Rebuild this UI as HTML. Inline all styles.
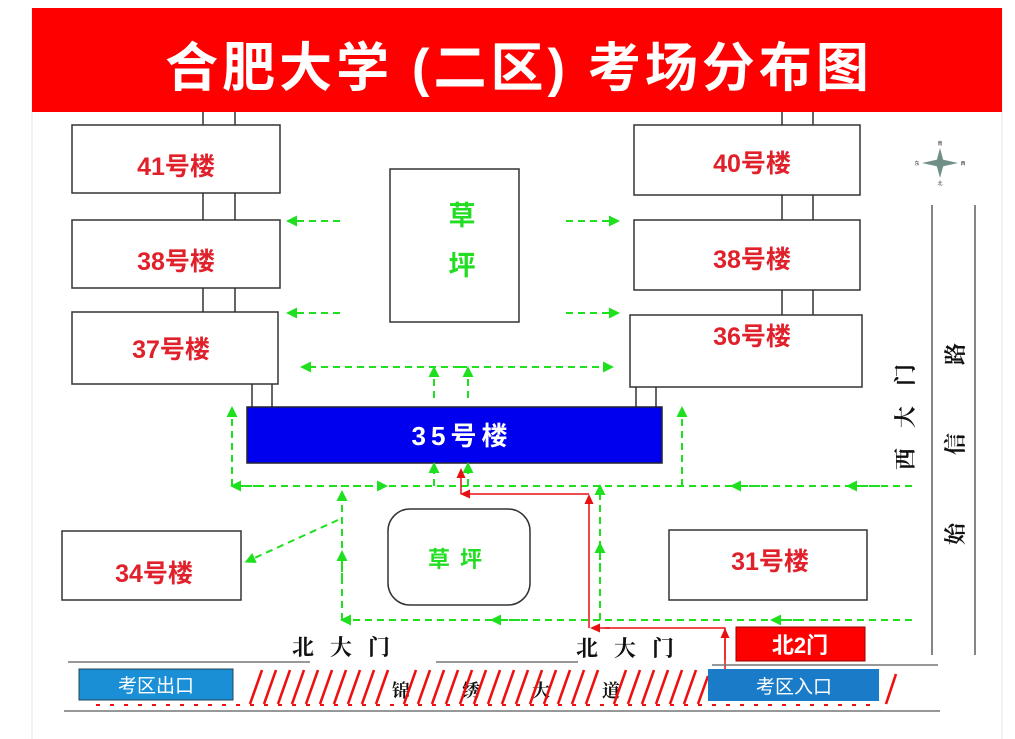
<!DOCTYPE html>
<html><head><meta charset="utf-8"><style>
body{margin:0;background:#fff;}
svg{display:block;font-family:"Liberation Sans","Noto Sans CJK SC",sans-serif;}
</style></head><body>
<svg width="1015" height="739" viewBox="0 0 1015 739" xmlns="http://www.w3.org/2000/svg">
<defs>
<marker id="g" markerWidth="11" markerHeight="11" refX="5" refY="5.5" orient="auto" markerUnits="userSpaceOnUse"><path d="M0,0 L11,5.5 L0,11Z" fill="#1ee01e"/></marker>
<marker id="r" markerWidth="10" markerHeight="9" refX="4" refY="4.5" orient="auto" markerUnits="userSpaceOnUse"><path d="M0,0 L10,4.5 L0,9Z" fill="#e81010"/></marker>
</defs>
<rect x="0" y="0" width="1015" height="739" fill="#fff"/>
<line x1="32" y1="8" x2="32" y2="739" stroke="#e4e4e4"/>
<line x1="1002" y1="8" x2="1002" y2="739" stroke="#e4e4e4"/>
<rect x="32" y="8" width="970" height="104" fill="#fe0000"/>
<text x="519" y="86" fill="#fff" font-size="53" font-weight="bold" text-anchor="middle" letter-spacing="4">合肥大学 (二区) 考场分布图</text>

<g stroke="#333" stroke-width="1.5" fill="none">
<line x1="203" y1="112" x2="203" y2="312"/><line x1="235" y1="112" x2="235" y2="312"/>
<line x1="252" y1="384" x2="252" y2="407"/><line x1="272" y1="384" x2="272" y2="407"/>
<line x1="782" y1="112" x2="782" y2="315"/><line x1="813" y1="112" x2="813" y2="315"/>
<line x1="636" y1="387" x2="636" y2="407"/><line x1="656" y1="387" x2="656" y2="407"/>
</g>
<g stroke="#333" stroke-width="1.5" fill="#fff">
<rect x="72" y="125" width="208" height="68"/>
<rect x="72" y="220" width="208" height="68"/>
<rect x="72" y="312" width="206" height="72"/>
<rect x="634" y="125" width="226" height="70"/>
<rect x="634" y="220" width="226" height="70"/>
<rect x="630" y="315" width="232" height="72"/>
<rect x="390" y="169" width="129" height="153"/>
<rect x="388" y="509" width="142" height="96" rx="22"/>
<rect x="62" y="531" width="179" height="69"/>
<rect x="669" y="530" width="198" height="70"/>
</g>
<rect x="247" y="407" width="415" height="56" fill="#0000ee" stroke="#223" stroke-width="1.5"/>
<g fill="#e0202a" font-size="25" font-weight="bold" text-anchor="middle">
<text x="176" y="175">41号楼</text><text x="176" y="270">38号楼</text><text x="171" y="358">37号楼</text>
<text x="752" y="172">40号楼</text><text x="752" y="268">38号楼</text><text x="752" y="345">36号楼</text>
<text x="154" y="582">34号楼</text><text x="770" y="570">31号楼</text>
</g>
<text x="462" y="445" fill="#fff" font-size="26" font-weight="bold" text-anchor="middle" letter-spacing="5">35号楼</text>
<g fill="#22dd22" font-size="27" font-weight="bold" text-anchor="middle">
<text x="462" y="225">草</text><text x="462" y="275">坪</text>
<text x="460" y="567" font-size="22" letter-spacing="10">草坪</text>
</g>

<g fill="#6f8f88"><path d="M940,148 L944,163 L940,178 L936,163Z"/><path d="M922,163 L940,159 L958,163 L940,167Z"/></g>
<g font-size="5" fill="#333" text-anchor="middle"><text x="940" y="145">南</text><text x="940" y="185">北</text><text x="917" y="165">东</text><text x="963" y="165">西</text></g>
<g stroke="#444" stroke-width="1.3">
<line x1="932" y1="205" x2="932" y2="655"/><line x1="975" y1="205" x2="975" y2="655"/>
</g>
<g font-family="Liberation Serif,'Noto Serif CJK SC',serif" font-size="22" fill="#111" font-weight="bold">
<text transform="translate(913,470) rotate(-90)" letter-spacing="20">西大门</text>
<text transform="translate(963,545) rotate(-90)" letter-spacing="68">始信路</text>
</g>

<g stroke="#1ee01e" stroke-width="2" stroke-dasharray="7,5" fill="none">
<line x1="340" y1="221" x2="292" y2="221" marker-end="url(#g)"/>
<line x1="566" y1="221" x2="614" y2="221" marker-end="url(#g)"/>
<line x1="340" y1="313" x2="292" y2="313" marker-end="url(#g)"/>
<line x1="566" y1="313" x2="614" y2="313" marker-end="url(#g)"/>
<line x1="460" y1="367" x2="306" y2="367" marker-end="url(#g)"/>
<line x1="460" y1="367" x2="608" y2="367" marker-end="url(#g)"/>
<line x1="434" y1="398" x2="434" y2="372" marker-end="url(#g)"/>
<line x1="468" y1="398" x2="468" y2="372" marker-end="url(#g)"/>
<line x1="912" y1="486" x2="232" y2="486"/>
<line x1="232" y1="486" x2="232" y2="412" marker-end="url(#g)"/>
<line x1="682" y1="486" x2="682" y2="412" marker-end="url(#g)"/>
<line x1="434" y1="486" x2="434" y2="468" marker-end="url(#g)"/>
<line x1="468" y1="486" x2="468" y2="468" marker-end="url(#g)"/>
<line x1="330" y1="486" x2="382" y2="486" marker-end="url(#g)"/>
<line x1="260" y1="486" x2="236" y2="486" marker-end="url(#g)"/>
<line x1="880" y1="486" x2="852" y2="486" marker-end="url(#g)"/>
<line x1="760" y1="486" x2="736" y2="486" marker-end="url(#g)"/>
<line x1="338" y1="520" x2="250" y2="560" marker-end="url(#g)"/>
<line x1="342" y1="620" x2="342" y2="496" marker-end="url(#g)"/>
<line x1="342" y1="580" x2="342" y2="556" marker-end="url(#g)"/>
<line x1="912" y1="620" x2="346" y2="620" marker-end="url(#g)"/>
<line x1="520" y1="620" x2="496" y2="620" marker-end="url(#g)"/>
<line x1="800" y1="620" x2="776" y2="620" marker-end="url(#g)"/>
<line x1="600" y1="620" x2="600" y2="490" marker-end="url(#g)"/>
<line x1="600" y1="570" x2="600" y2="548" marker-end="url(#g)"/>
</g>
<g stroke="#e81010" stroke-width="1.5" fill="none">
<polyline points="725,690 725,628 605,628"/>
<line x1="610" y1="628" x2="596" y2="628" marker-end="url(#r)"/>
<line x1="725" y1="660" x2="725" y2="634" marker-end="url(#r)"/>
<line x1="589" y1="628" x2="589" y2="500" marker-end="url(#r)"/>
<line x1="589" y1="494" x2="466" y2="494" marker-end="url(#r)"/>
<line x1="461" y1="494" x2="461" y2="474" marker-end="url(#r)"/>
</g>

<rect x="736" y="627" width="129" height="34" fill="#fe0000" stroke="#900"/>
<text x="800" y="653" fill="#fff" font-size="22" font-weight="bold" text-anchor="middle">北2门</text>
<g font-family="Liberation Serif,'Noto Serif CJK SC',serif" font-size="22" font-weight="bold" fill="#111">
<text x="292" y="655" letter-spacing="16">北大门</text>
<text x="576" y="656" letter-spacing="16">北大门</text>
<text x="392" y="697" font-size="18" letter-spacing="52">锦绣大道</text>
</g>
<g stroke="#777" stroke-width="1.5">
<line x1="68" y1="662" x2="310" y2="662"/><line x1="436" y1="662" x2="578" y2="662"/>
<line x1="712" y1="665" x2="938" y2="665"/><line x1="64" y1="711" x2="940" y2="711"/>
</g>
<g stroke="#ee1010" stroke-width="2.6">
<line x1="250" y1="704" x2="262" y2="670"/><line x1="264" y1="704" x2="276" y2="670"/><line x1="278" y1="704" x2="290" y2="670"/>
<line x1="292" y1="704" x2="304" y2="670"/><line x1="306" y1="704" x2="318" y2="670"/><line x1="320" y1="704" x2="332" y2="670"/>
<line x1="334" y1="704" x2="346" y2="670"/><line x1="348" y1="704" x2="360" y2="670"/><line x1="362" y1="704" x2="374" y2="670"/>
<line x1="376" y1="704" x2="388" y2="670"/><line x1="404" y1="704" x2="416" y2="670"/><line x1="418" y1="704" x2="430" y2="670"/>
<line x1="432" y1="704" x2="444" y2="670"/><line x1="446" y1="704" x2="458" y2="670"/><line x1="460" y1="704" x2="472" y2="670"/>
<line x1="474" y1="704" x2="486" y2="670"/><line x1="488" y1="704" x2="500" y2="670"/><line x1="502" y1="704" x2="514" y2="670"/>
<line x1="516" y1="704" x2="528" y2="670"/><line x1="530" y1="704" x2="542" y2="670"/><line x1="544" y1="704" x2="556" y2="670"/>
<line x1="558" y1="704" x2="570" y2="670"/><line x1="572" y1="704" x2="584" y2="670"/><line x1="586" y1="704" x2="598" y2="670"/>
<line x1="614" y1="704" x2="626" y2="670"/><line x1="628" y1="704" x2="640" y2="670"/><line x1="642" y1="704" x2="654" y2="670"/>
<line x1="656" y1="704" x2="668" y2="670"/><line x1="670" y1="704" x2="682" y2="670"/><line x1="684" y1="704" x2="696" y2="670"/>
<line x1="698" y1="704" x2="708" y2="676"/><line x1="886" y1="704" x2="896" y2="674"/>
</g>
<g stroke="#ee1010" stroke-width="2" stroke-dasharray="4,10"><line x1="96" y1="705" x2="880" y2="705"/></g>
<rect x="79" y="669" width="154" height="31" fill="#1a8fd6" stroke="#245"/>
<rect x="708" y="669" width="171" height="32" fill="#1a7cc8"/>
<text x="156" y="692" fill="#fff" font-size="19" text-anchor="middle">考区出口</text>
<text x="794" y="693" fill="#fff" font-size="19" text-anchor="middle">考区入口</text>
</svg>
</body></html>
